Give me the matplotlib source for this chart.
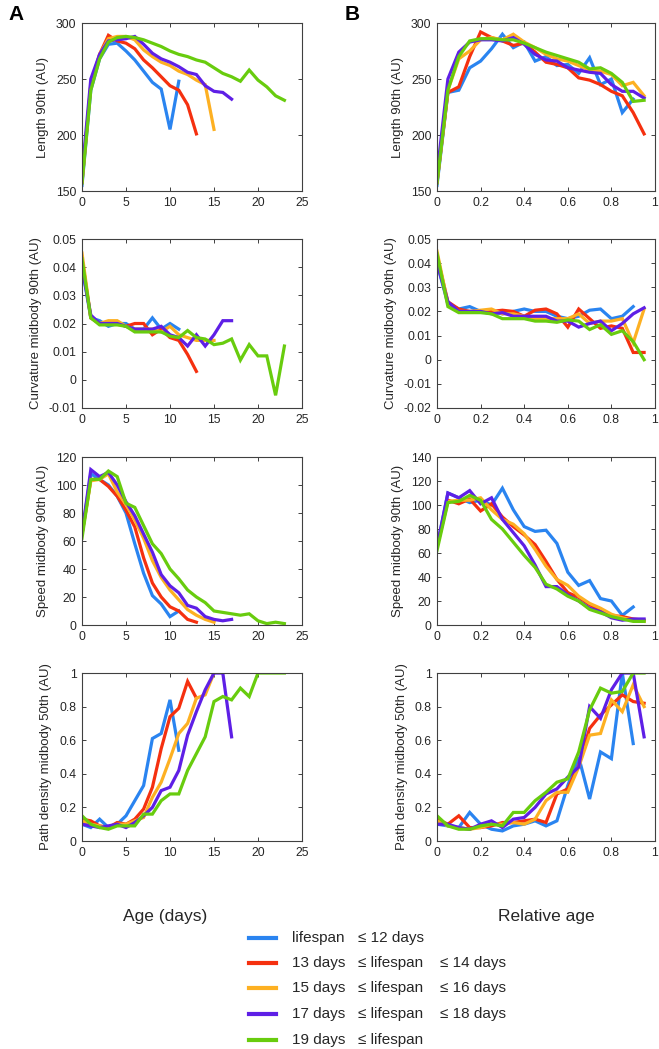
import numpy as np
import matplotlib.pyplot as plt
from matplotlib.lines import Line2D
from matplotlib.ticker import FuncFormatter

plt.rcParams['font.family'] = ['Liberation Sans', 'DejaVu Sans']

colors = ['#2A84F0', '#F5300F', '#FDB022', '#5E1FE6', '#68CC0E']
groups = ['blue', 'red', 'orange', 'purple', 'green']

# ---- A: versus age (days) ----
len_a = [
    [155, 240, 268, 281, 282, 275, 267, 257, 247, 241, 205, 248],
    [158, 245, 272, 289, 284, 282, 277, 267, 260, 252, 244, 240, 227, 201],
    [158, 245, 272, 286, 288, 288, 285, 276, 270, 265, 262, 257, 254, 249, 245, 205],
    [165, 250, 272, 284, 285, 286, 288, 281, 273, 268, 265, 261, 256, 254, 244, 239, 238, 232],
    [157, 240, 268, 283, 287, 288, 287, 285, 282, 279, 275, 272, 270, 267, 265, 260, 255, 252,
     248, 258, 249, 243, 235, 231],
]
curv_a = [
    [0.040, 0.022, 0.021, 0.019, 0.020, 0.020, 0.018, 0.018, 0.022, 0.018, 0.020, 0.018],
    [0.043, 0.022, 0.020, 0.020, 0.020, 0.019, 0.020, 0.020, 0.016, 0.018, 0.015, 0.014, 0.009, 0.003],
    [0.045, 0.022, 0.020, 0.021, 0.021, 0.019, 0.018, 0.018, 0.018, 0.017, 0.019, 0.016, 0.015,
     0.014, 0.014, 0.014],
    [0.040, 0.023, 0.020, 0.020, 0.020, 0.019, 0.018, 0.018, 0.018, 0.019, 0.016, 0.015, 0.012,
     0.016, 0.012, 0.016, 0.021, 0.021],
    [0.043, 0.022, 0.0195, 0.0195, 0.0195, 0.019, 0.017, 0.017, 0.017, 0.017, 0.0155, 0.015,
     0.0175, 0.015, 0.0145, 0.0125, 0.013, 0.0145, 0.007, 0.0125, 0.0085, 0.0085, -0.0055, 0.012],
]
speed_a = [
    [65, 108, 104, 100, 92, 80, 58, 37, 21, 15, 6, 10],
    [65, 104, 104, 99, 92, 82, 70, 48, 30, 20, 13, 10, 4, 2],
    [65, 103, 104, 108, 95, 86, 75, 62, 46, 34, 25, 18, 11, 7, 4, 2],
    [65, 111, 106, 109, 100, 88, 78, 65, 52, 36, 28, 23, 14, 12, 6, 4, 3, 4],
    [62, 104, 104, 110, 106, 87, 84, 71, 58, 51, 40, 33, 25, 20, 16, 10, 9, 8, 7, 8, 3, 1, 2, 1],
]
path_a = [
    [0.10, 0.08, 0.13, 0.08, 0.10, 0.15, 0.24, 0.33, 0.61, 0.64, 0.84, 0.54],
    [0.13, 0.12, 0.09, 0.08, 0.11, 0.10, 0.13, 0.19, 0.32, 0.55, 0.74, 0.79, 0.95, 0.85],
    [0.12, 0.10, 0.09, 0.08, 0.10, 0.10, 0.12, 0.14, 0.26, 0.35, 0.49, 0.64, 0.70, 0.85, 0.87, 1.0],
    [0.10, 0.09, 0.08, 0.09, 0.10, 0.08, 0.11, 0.15, 0.20, 0.30, 0.32, 0.42, 0.63, 0.77, 0.90,
     1.0, 1.0, 0.62],
    [0.15, 0.10, 0.08, 0.07, 0.09, 0.09, 0.09, 0.16, 0.16, 0.24, 0.28, 0.28, 0.42, 0.52, 0.62,
     0.83, 0.86, 0.84, 0.91, 0.86, 1.0, 1.0, 1.0, 1.0],
]

# ---- B: versus relative age ----
rel_age = [0, 0.05, 0.1, 0.15, 0.2, 0.25, 0.3, 0.35, 0.4, 0.45, 0.5, 0.55, 0.6, 0.65, 0.7,
           0.75, 0.8, 0.85, 0.9, 0.95]
len_b = [
    [155, 238, 240, 260, 266, 277, 290, 278, 283, 266, 270, 262, 263, 255, 269, 245, 250, 220, 232],
    [158, 238, 243, 270, 292, 287, 284, 280, 282, 274, 265, 263, 260, 251, 249, 245, 239, 235, 220, 201],
    [158, 240, 268, 275, 285, 287, 285, 290, 283, 278, 272, 268, 266, 262, 258, 257, 254, 244, 247, 235],
    [165, 250, 274, 283, 285, 285, 284, 287, 281, 272, 267, 266, 260, 258, 256, 255, 245, 239, 239, 233],
    [157, 240, 270, 284, 286, 286, 285, 285, 282, 278, 274, 271, 268, 265, 259, 260, 255, 247, 230, 231],
]
curv_b = [
    [0.040, 0.023, 0.021, 0.022, 0.020, 0.020, 0.019, 0.020, 0.021, 0.020, 0.020, 0.018, 0.017,
     0.018, 0.0205, 0.021, 0.017, 0.018, 0.022],
    [0.043, 0.024, 0.021, 0.020, 0.020, 0.020, 0.0205, 0.020, 0.018, 0.0205, 0.021, 0.019, 0.0135,
     0.021, 0.017, 0.013, 0.014, 0.013, 0.003, 0.003],
    [0.045, 0.023, 0.020, 0.020, 0.0205, 0.021, 0.019, 0.019, 0.018, 0.017, 0.017, 0.017, 0.017,
     0.019, 0.015, 0.016, 0.016, 0.017, 0.007, 0.021],
    [0.040, 0.024, 0.020, 0.020, 0.020, 0.019, 0.0195, 0.018, 0.018, 0.018, 0.018, 0.016, 0.016,
     0.0135, 0.015, 0.016, 0.012, 0.015, 0.019, 0.0215],
    [0.044, 0.022, 0.0195, 0.0195, 0.0195, 0.019, 0.017, 0.017, 0.017, 0.016, 0.016, 0.0155, 0.0165,
     0.016, 0.0125, 0.0145, 0.0105, 0.012, 0.0075, 0.0],
]
speed_b = [
    [65, 110, 106, 102, 104, 100, 114, 96, 82, 78, 79, 68, 44, 33, 37, 22, 20, 8, 15],
    [65, 104, 101, 105, 95, 101, 90, 82, 75, 67, 53, 38, 27, 23, 17, 12, 8, 7, 5, 4],
    [65, 103, 104, 104, 106, 96, 88, 84, 76, 63, 49, 38, 33, 24, 18, 14, 9, 6, 4, 3],
    [65, 110, 106, 112, 101, 106, 88, 77, 66, 50, 32, 32, 25, 20, 14, 11, 6, 4, 5, 5],
    [62, 102, 103, 108, 104, 88, 80, 69, 58, 48, 34, 30, 24, 20, 13, 10, 7, 5, 3, 3],
]
path_b = [
    [0.10, 0.09, 0.08, 0.17, 0.10, 0.07, 0.06, 0.09, 0.10, 0.12, 0.09, 0.12, 0.33, 0.50, 0.25,
     0.53, 0.49, 1.0, 0.58],
    [0.13, 0.10, 0.15, 0.08, 0.08, 0.09, 0.11, 0.11, 0.12, 0.13, 0.11, 0.28, 0.31, 0.45, 0.67,
     0.75, 0.81, 0.87, 0.83, 0.82],
    [0.12, 0.09, 0.08, 0.07, 0.08, 0.10, 0.10, 0.11, 0.10, 0.13, 0.24, 0.29, 0.29, 0.44, 0.63,
     0.64, 0.84, 0.77, 0.93, 0.80],
    [0.10, 0.10, 0.08, 0.07, 0.10, 0.12, 0.08, 0.13, 0.14, 0.20, 0.28, 0.31, 0.38, 0.44, 0.80,
     0.73, 0.90, 1.0, 1.0, 0.62],
    [0.15, 0.09, 0.07, 0.07, 0.09, 0.10, 0.09, 0.17, 0.17, 0.24, 0.29, 0.35, 0.37, 0.53, 0.78,
     0.91, 0.88, 0.89, 1.0, 1.0],
]

ylabels = ['Length 90th (AU)', 'Curvature midbody 90th (AU)',
           'Speed midbody 90th (AU)', 'Path density midbody 50th (AU)']
data_a = [len_a, curv_a, speed_a, path_a]
data_b = [len_b, curv_b, speed_b, path_b]
ylims_a = [(150, 300, 50), (-0.01, 0.05, 0.01), (0, 120, 20), (0, 1, 0.2)]
ylims_b = [(150, 300, 50), (-0.02, 0.05, 0.01), (0, 140, 20), (0, 1, 0.2)]

legend_rows = [
    ('lifespan', '\u2264 12 days', ''),
    ('13 days', '\u2264 lifespan', '\u2264 14 days'),
    ('15 days', '\u2264 lifespan', '\u2264 16 days'),
    ('17 days', '\u2264 lifespan', '\u2264 18 days'),
    ('19 days', '\u2264 lifespan', ''),
]

W, H = 659, 1049
fig = plt.figure(figsize=(W / 100, H / 100), dpi=100)

rows_px = [(23, 191), (239, 408), (457, 625), (673, 841)]
cols_px = [(82, 302), (437, 655)]


def fmt(v, pos):
    s = ('%.2f' % v).rstrip('0').rstrip('.')
    if s == '-0':
        s = '0'
    return s


def style(ax):
    for sp in ax.spines.values():
        sp.set_color('#404040')
        sp.set_linewidth(0.8)
    ax.tick_params(direction='in', top=True, right=True, length=3, width=0.7,
                   color='#404040', labelsize=8.8, labelcolor='#262626', pad=4)
    ax.yaxis.set_major_formatter(FuncFormatter(fmt))
    ax.xaxis.set_major_formatter(FuncFormatter(fmt))


for c, (data, ylims) in enumerate([(data_a, ylims_a), (data_b, ylims_b)]):
    x0, x1 = cols_px[c]
    for r in range(4):
        y0, y1 = rows_px[r]
        ax = fig.add_axes([x0 / W, 1 - y1 / H, (x1 - x0) / W, (y1 - y0) / H])
        for g in range(5):
            vals = data[r][g]
            if c == 0:
                xs = np.arange(len(vals))
            else:
                xs = np.array(rel_age[:len(vals)])
            ax.plot(xs, vals, color=colors[g], lw=2.3, solid_joinstyle='miter')
        lo, hi, st = ylims[r]
        ax.set_ylim(lo, hi)
        ax.set_yticks(np.round(np.arange(lo, hi + st / 2, st), 4))
        if c == 0:
            ax.set_xlim(0, 25)
            ax.set_xticks(np.arange(0, 26, 5))
        else:
            ax.set_xlim(0, 1)
            ax.set_xticks(np.round(np.arange(0, 1.01, 0.2), 2))
        ax.set_ylabel(ylabels[r], fontsize=9.5, color='#262626', labelpad=5)
        style(ax)

fig.text(8 / W, 1 - 14 / H, 'A', fontsize=15, fontweight='bold', va='center')
fig.text(345 / W, 1 - 14 / H, 'B', fontsize=15, fontweight='bold', va='center')
fig.text(165 / W, 1 - 917 / H, 'Age (days)', fontsize=12.5, ha='center', va='center', color='#262626')
fig.text(546 / W, 1 - 917 / H, 'Relative age', fontsize=12.5, ha='center', va='center', color='#262626')

leg_y = [938, 963, 988, 1014, 1040]
for g in range(5):
    y = 1 - leg_y[g] / H
    fig.add_artist(Line2D([249 / W, 276 / W], [y, y], color=colors[g], lw=3,
                          transform=fig.transFigure))
    t1, t2, t3 = legend_rows[g]
    fig.text(292 / W, y, t1, fontsize=11, va='center', color='#262626')
    fig.text(358 / W, y, t2, fontsize=11, va='center', color='#262626')
    if t3:
        fig.text(440 / W, y, t3, fontsize=11, va='center', color='#262626')

fig.savefig('out.png', dpi=100)
